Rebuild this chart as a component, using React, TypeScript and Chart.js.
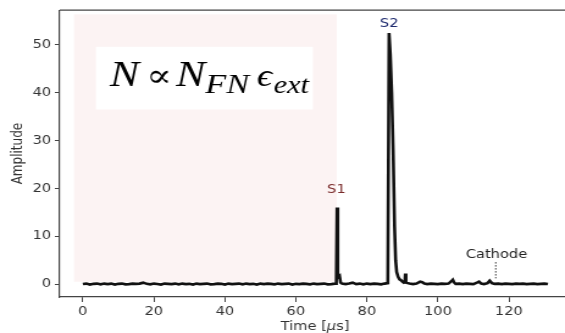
import { useEffect, useRef } from "react";
import { Chart, registerables } from "chart.js";

Chart.register(...registerables);

// Digitizer trace, [time in µs, amplitude] pairs.
const quietTrace: [number, number][] = [
  [0, 0.0], [1, 0.1], [2, -0.1], [3, 0.05], [4, 0.1], [5, -0.05], [6, 0.1], [7, 0.0], [8, 0.1], [9, -0.1],
  [10, 0.05], [11, 0.1], [12, -0.05], [13, 0.0], [14, 0.1], [15, 0.05], [16, 0.1], [17, 0.3], [18, 0.05], [19, -0.05],
  [20, 0.1], [21, 0.0], [22, -0.1], [23, 0.1], [24, 0.05], [25, 0.0], [26, 0.1], [27, -0.05], [28, 0.1], [29, 0.0],
  [30, 0.05], [31, -0.1], [32, 0.1], [33, 0.0], [34, 0.05], [35, 0.1], [36, -0.05], [37, 0.0], [38, 0.1], [39, 0.05],
  [40, -0.1], [41, 0.1], [42, 0.0], [43, 0.05], [44, 0.1], [45, -0.05], [46, 0.1], [47, 0.0], [48, 0.05], [49, -0.1],
  [50, 0.1], [51, 0.0], [52, 0.1], [53, 0.05], [54, -0.05], [55, 0.1], [56, 0.0], [57, 0.05], [58, 0.1], [59, -0.1],
  [60, 0.05], [61, 0.0], [62, 0.1], [63, 0.05], [64, -0.05], [65, 0.1], [66, 0.0], [67, 0.05], [68, 0.1], [69, -0.05],
  [70, 0.0], [71, 0.1],
];

const s1Trace: [number, number][] = [
  [71.4, 0.1], [71.6, 16.0], [71.8, 2.0], [72.0, 1.5], [72.3, 1.7], [72.6, 0.3], [73, 0.1], [74, 0.0], [75, 0.1],
  [76, 0.3], [77, 0.0], [78, 0.1], [79, -0.05], [80, 0.1], [81, 0.0], [82, 0.1], [83, 0.05], [84, -0.05], [85, 0.1],
  [85.9, 0.2],
];

const s2Trace: [number, number][] = [
  [86.25, 52.5], [86.6, 48], [87.0, 40], [87.4, 28], [87.8, 12], [88.1, 5], [88.4, 2.5], [88.8, 1.5],
  [89.2, 1.0], [89.6, 0.8], [90.0, 0.5], [90.4, 0.3], [90.7, 0.4], [90.85, 2.2], [91.0, 0.3], [91.5, 0.2], [92, 0.1],
  [93, 0.0], [94, 0.1], [95, 0.5], [95.6, 0.4], [96.2, 0.1],
];

const tailTrace: [number, number][] = [
  [97, 0.0], [98, 0.1], [99, 0.05], [100, 0.0], [101, 0.1], [102, 0.05], [103, 0.1], [103.8, 0.6], [104.2, 0.9],
  [104.6, 0.3], [105, 0.05], [106, 0.1], [107, 0.0], [108, 0.1], [109, 0.05], [110, 0.0], [111, 0.3], [111.6, 0.5],
  [112.2, 0.1], [113, 0.0], [114, 0.2], [114.6, 0.7], [115.2, 0.2], [116, 0.05], [117, 0.1], [118, 0.0], [119, 0.1],
  [120, 0.05], [121, 0.0], [122, 0.1], [123, 0.05], [124, 0.1], [125, 0.0], [126, 0.05], [127, 0.1], [128, 0.0],
  [129, 0.05], [130, 0.1], [131, 0.0],
];

const xTickValues = [0, 20, 40, 60, 80, 100, 120];
const yTickValues = [0, 10, 20, 30, 40, 50];

// Peak annotations: label text, anchor time, anchor amplitude.
const peakLabels = [
  { text: "S1", t: 71.4, a: 19.6, color: "#7a2c2c" },
  { text: "S2", t: 86.3, a: 54.4, color: "#1e2a6e" },
  { text: "Cathode", t: 116.5, a: 6.2, color: "#222222" },
];

// Drawing geometry: the plot is rendered narrower and widened by CSS.
const OUT_W = 565;
const OUT_H = 333;
const CANVAS_W = 463;

const FONT = "'DejaVu Sans', sans-serif";
const SERIF = "'Liberation Serif', 'DejaVu Serif', serif";

const decorPlugin = {
  id: "decor",
  beforeDatasetsDraw(chart: any) {
    const { ctx, scales } = chart;
    const x = scales.x;
    const y = scales.y;
    ctx.save();
    // shaded pre-trigger window
    ctx.fillStyle = "#fcf3f3";
    const sx0 = x.getPixelForValue(-2.5);
    const sx1 = x.getPixelForValue(71.5);
    const sy0 = y.getPixelForValue(56.4);
    const sy1 = y.getPixelForValue(0.5);
    ctx.fillRect(sx0, sy0, sx1 - sx0, sy1 - sy0);
    // formula box
    const bx0 = x.getPixelForValue(3.7);
    const bx1 = x.getPixelForValue(64.8);
    const by0 = y.getPixelForValue(49.6);
    const by1 = y.getPixelForValue(36.5);
    ctx.fillStyle = "#ffffff";
    ctx.fillRect(bx0, by0, bx1 - bx0, by1 - by0);

    const base = y.getPixelForValue(41.5);
    const sub = base + 7;
    ctx.fillStyle = "#000";
    ctx.textBaseline = "alphabetic";
    ctx.textAlign = "left";
    const piece = (txt: string, t: number, font: string, yy: number) => {
      ctx.font = font;
      ctx.fillText(txt, x.getPixelForValue(t), yy);
    };
    piece("N", 7.6, `italic 36px ${SERIF}`, base);
    piece("\u221D", 17.9, `31px ${SERIF}`, base);
    piece("N", 26.2, `italic 36px ${SERIF}`, base);
    piece("FN", 34.5, `italic 28px ${SERIF}`, sub);
    piece("\u03F5", 49.0, `italic 31px ${SERIF}`, base);
    piece("ext", 53.7, `italic 25px ${SERIF}`, sub);
    ctx.restore();
  },
  afterDatasetsDraw(chart: any) {
    const { ctx, scales, chartArea } = chart;
    const x = scales.x;
    const y = scales.y;
    ctx.save();
    ctx.font = `12px ${FONT}`;
    ctx.textAlign = "center";
    ctx.textBaseline = "middle";
    for (const l of peakLabels) {
      ctx.fillStyle = l.color;
      ctx.fillText(l.text, x.getPixelForValue(l.t), y.getPixelForValue(l.a));
    }
    // cathode marker
    ctx.strokeStyle = "#333";
    ctx.lineWidth = 1;
    ctx.setLineDash([1.5, 1.5]);
    const cx = x.getPixelForValue(116.3);
    ctx.beginPath();
    ctx.moveTo(cx, y.getPixelForValue(4.6));
    ctx.lineTo(cx, y.getPixelForValue(1.2));
    ctx.stroke();
    ctx.setLineDash([]);

    // top spine
    ctx.strokeStyle = "#444";
    ctx.lineWidth = 1.2;
    ctx.beginPath();
    ctx.moveTo(chartArea.left, chartArea.top);
    ctx.lineTo(chartArea.right, chartArea.top);
    ctx.stroke();

    // axis titles
    ctx.fillStyle = "#333";
    ctx.textAlign = "left";
    ctx.textBaseline = "alphabetic";
    const parts = [
      { s: "Time [", f: `12px ${FONT}` },
      { s: "\u03BC", f: `italic 12px ${FONT}` },
      { s: "s]", f: `12px ${FONT}` },
    ];
    let total = 0;
    for (const p of parts) {
      ctx.font = p.f;
      total += ctx.measureText(p.s).width;
    }
    let tx = x.getPixelForValue(65.4) - total / 2;
    for (const p of parts) {
      ctx.font = p.f;
      ctx.fillText(p.s, tx, 329.5);
      tx += ctx.measureText(p.s).width;
    }

    ctx.translate(18 * CANVAS_W / OUT_W, (chartArea.top + chartArea.bottom) / 2);
    ctx.rotate(-Math.PI / 2);
    ctx.font = `12px ${FONT}`;
    ctx.textAlign = "center";
    ctx.textBaseline = "middle";
    ctx.fillText("Amplitude", 0, 0);
    ctx.restore();
  },
};

export default function App() {
  const ref = useRef<HTMLCanvasElement>(null);

  useEffect(() => {
    document.body.style.margin = "0";
    const canvas = ref.current;
    if (!canvas) return;
    const points = [...quietTrace, ...s1Trace, ...s2Trace, ...tailTrace].map(([t, a]) => ({ x: t, y: a }));
    const chart = new Chart(canvas, {
      type: "line",
      data: {
        datasets: [
          {
            data: points,
            borderColor: "#111111",
            borderWidth: 2.6,
            pointRadius: 0,
            tension: 0,
            fill: false,
          },
        ],
      },
      options: {
        animation: false,
        responsive: false,
        devicePixelRatio: 1,
        layout: { padding: { top: 8, right: 0, left: 0, bottom: 0 } },
        plugins: { legend: { display: false }, tooltip: { enabled: false } },
        scales: {
          x: {
            type: "linear",
            min: -6.5,
            max: 135.8,
            afterBuildTicks: (s: any) => {
              s.ticks = xTickValues.map((v) => ({ value: v }));
            },
            afterFit: (s: any) => {
              s.height = 36;
            },
            grid: { drawOnChartArea: false, drawTicks: true, tickLength: 5, tickColor: "#444", tickWidth: 1 },
            border: { display: true, color: "#444", width: 1.2 },
            ticks: { font: { family: FONT, size: 12 }, color: "#333", padding: 3, maxRotation: 0 },
          },
          y: {
            type: "linear",
            min: -2.7,
            max: 57.26,
            afterBuildTicks: (s: any) => {
              s.ticks = yTickValues.map((v) => ({ value: v }));
            },
            afterFit: (s: any) => {
              s.width = 49;
            },
            grid: { drawOnChartArea: false, drawTicks: true, tickLength: 4, tickColor: "#444", tickWidth: 1 },
            border: { display: true, color: "#444", width: 1.2 },
            ticks: { font: { family: FONT, size: 12 }, color: "#333", padding: 3 },
          },
        },
      },
      plugins: [decorPlugin],
    });
    return () => chart.destroy();
  }, []);

  return (
    <canvas
      ref={ref}
      width={CANVAS_W}
      height={OUT_H}
      style={{ position: "absolute", left: 0, top: 0, width: `${OUT_W}px`, height: `${OUT_H}px`, background: "#fff" }}
    />
  );
}
